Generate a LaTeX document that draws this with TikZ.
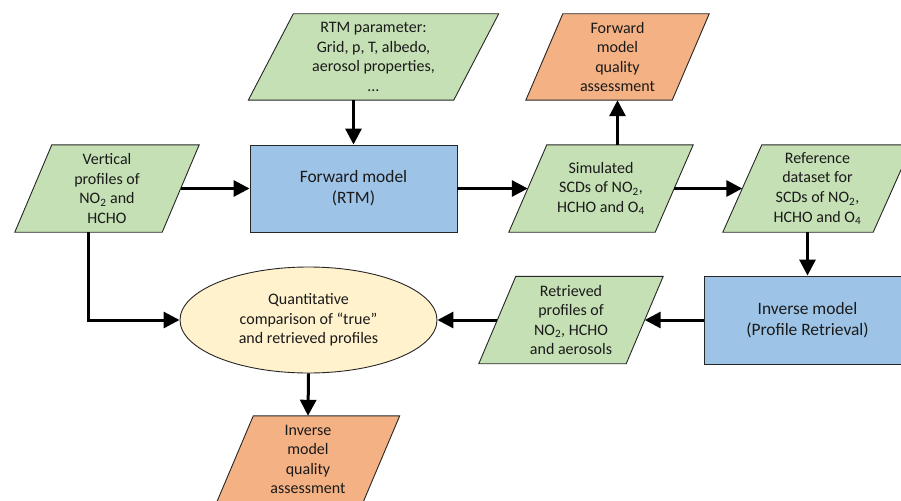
\documentclass[tikz,border=0pt]{standalone}
\usepackage{fontspec}
\setmainfont{Carlito}
\usetikzlibrary{arrows.meta,shapes.geometric,backgrounds}
\definecolor{pgreen}{HTML}{C5E0B4}
\definecolor{pblue}{HTML}{9DC3E6}
\definecolor{porange}{HTML}{F4B183}
\definecolor{pyellow}{HTML}{FFF2CC}
\definecolor{pborder}{HTML}{262626}
\definecolor{ptext}{HTML}{1A1A1A}
\tikzset{
  smalltxt/.style={font=\fontsize{16}{19.6}\selectfont},
  bigtxt/.style={font=\fontsize{17.4}{21.3}\selectfont},
  paranode/.style={smalltxt, text=ptext, align=center, inner sep=0pt, shape=rectangle},
  boxnode/.style={bigtxt, text=ptext, align=center, inner sep=0pt, shape=rectangle, draw=pborder, line width=0.9pt, fill=pblue},
  ellnode/.style={smalltxt, text=ptext, align=center, inner sep=0pt, shape=ellipse, draw=pborder, line width=0.9pt, fill=pyellow},
  border/.style={draw=pborder, line width=0.9pt},
  flow/.style={draw=black, line width=3pt, -{Triangle[length=16pt,width=16pt]}},
}
\newcommand\drawpara[3]{%
  \path[border, fill=#3] ([xshift=#2]#1.north west) -- ([xshift=#2]#1.north east)
    -- ([xshift=-#2]#1.south east) -- ([xshift=-#2]#1.south west) -- cycle;}
\begin{document}
\begin{tikzpicture}[x=1pt,y=-1pt]
\useasboundingbox (0,0) rectangle (901,500);
\clip (0,0) rectangle (901,500);

% parallelogram text nodes
\node[paranode, minimum width=205pt, minimum height=86pt] (rtm) at (373.5,57)
  {RTM parameter:\\Grid, p, T, albedo,\\aerosol properties,\\…};
\node[paranode, minimum width=147pt, minimum height=87pt] (vp) at (107,188.5)
  {Vertical\\profiles of\\NO\textsubscript{2} and\\HCHO};
\node[paranode, minimum width=146pt, minimum height=86pt] (fq) at (617.5,57)
  {Forward\\model\\quality\\assessment};
\node[paranode, minimum width=146pt, minimum height=87pt] (sim) at (601,188.5)
  {Simulated\\SCDs of NO\textsubscript{2},\\HCHO and O\textsubscript{4}};
\node[paranode, minimum width=150pt, minimum height=87pt] (ref) at (817.5,188.5)
  {Reference\\dataset for\\SCDs of NO\textsubscript{2},\\HCHO and O\textsubscript{4}};
\node[paranode, minimum width=147pt, minimum height=87pt] (ret) at (571,320)
  {Retrieved\\profiles of\\NO\textsubscript{2}, HCHO\\and aerosols};
\node[paranode, minimum width=146pt, minimum height=87pt] (iq) at (308,459.5)
  {Inverse\\model\\quality\\assessment};

% boxes and ellipse
\node[boxnode, minimum width=207pt, minimum height=87pt] (fm) at (353.5,188.5)
  {Forward model\\(RTM)};
\node[boxnode, minimum width=207pt, minimum height=88pt] (im) at (807.5,320)
  {Inverse model\\(Profile Retrieval)};
\node[ellnode, minimum width=257pt, minimum height=106pt] (ell) at (308.5,320)
  {Quantitative\\comparison of “true”\\and retrieved profiles};

\begin{pgfonlayer}{background}
  \drawpara{rtm}{22.5pt}{pgreen}
  \drawpara{vp}{18.5pt}{pgreen}
  \drawpara{fq}{18.5pt}{porange}
  \drawpara{sim}{19pt}{pgreen}
  \drawpara{ref}{19.5pt}{pgreen}
  \drawpara{ret}{18.5pt}{pgreen}
  \drawpara{iq}{18.5pt}{porange}
\end{pgfonlayer}

% connectors
\draw[flow] (fm.north |- rtm.south) -- (fm.north);
\draw[flow] (vp.east) -- (fm.west);
\draw[flow] (fm.east) -- (sim.west);
\draw[flow] (fq.south |- sim.north) -- (fq.south);
\draw[flow] (sim.east) -- (ref.west);
\draw[flow] (im.north |- ref.south) -- (im.north);
\draw[flow] (im.west) -- (ret.east);
\draw[flow] (ret.west) -- (ell.east);
\draw[flow] ([xshift=-19pt]vp.south) |- (ell.west);
\draw[flow] (ell.south) -- (iq.north);
\end{tikzpicture}
\end{document}
